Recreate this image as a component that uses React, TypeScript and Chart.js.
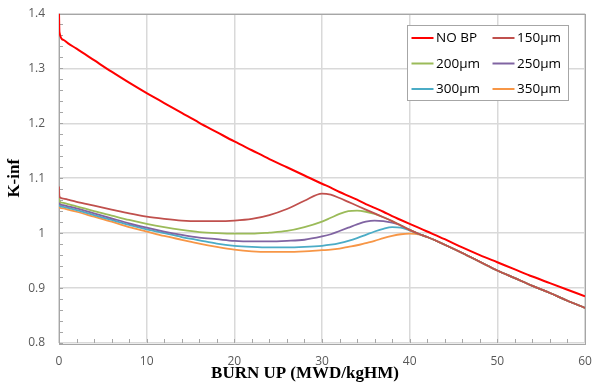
import React, { useEffect, useRef } from "react";
import { Chart, registerables } from "chart.js";

Chart.register(...registerables);

// Burn-up grid (MWD/kgHM)
const burnup = [0, 0.05, 0.5, 1, 2, 4, 6, 8, 10, 12, 14, 16, 18, 20, 22, 24, 26, 28, 30, 31, 32, 33, 34, 35, 36, 37, 38, 39, 40, 41, 42, 44, 46, 48, 50, 52, 54, 56, 58, 60];

const noBp = [1.4, 1.366, 1.352, 1.346, 1.336, 1.315, 1.294, 1.274, 1.255, 1.237, 1.219, 1.201, 1.184, 1.167, 1.151, 1.135, 1.12, 1.105, 1.09, 1.083, 1.075, 1.068, 1.061, 1.053, 1.046, 1.039, 1.031, 1.024, 1.017, 1.01, 1.003, 0.989, 0.974, 0.96, 0.947, 0.934, 0.921, 0.909, 0.897, 0.885];

const bp150 = [1.085, 1.066, 1.063, 1.061, 1.057, 1.05, 1.043, 1.036, 1.03, 1.026, 1.023, 1.022, 1.022, 1.023, 1.026, 1.033, 1.044, 1.059, 1.072, 1.07, 1.064, 1.057, 1.05, 1.043, 1.036, 1.029, 1.022, 1.014, 1.006, 0.999, 0.993, 0.979, 0.964, 0.948, 0.932, 0.918, 0.904, 0.891, 0.877, 0.864];

const bp200 = [1.075, 1.058, 1.055, 1.053, 1.049, 1.04, 1.032, 1.024, 1.017, 1.011, 1.006, 1.002, 1.0, 0.999, 0.999, 1.001, 1.004, 1.011, 1.021, 1.028, 1.035, 1.04, 1.041, 1.039, 1.035, 1.029, 1.022, 1.014, 1.006, 0.999, 0.993, 0.979, 0.964, 0.948, 0.932, 0.918, 0.904, 0.891, 0.877, 0.864];

const bp250 = [1.072, 1.054, 1.051, 1.049, 1.045, 1.036, 1.027, 1.018, 1.01, 1.003, 0.997, 0.992, 0.989, 0.986, 0.985, 0.985, 0.986, 0.988, 0.994, 0.998, 1.004, 1.01, 1.016, 1.021, 1.023, 1.022, 1.019, 1.014, 1.006, 0.999, 0.993, 0.979, 0.964, 0.948, 0.932, 0.918, 0.904, 0.891, 0.877, 0.864];

const bp300 = [1.07, 1.05, 1.048, 1.046, 1.042, 1.033, 1.024, 1.015, 1.007, 1.0, 0.993, 0.987, 0.981, 0.977, 0.975, 0.974, 0.974, 0.975, 0.977, 0.979, 0.982, 0.986, 0.991, 0.997, 1.003, 1.008, 1.011, 1.01, 1.005, 0.999, 0.993, 0.979, 0.964, 0.948, 0.932, 0.918, 0.904, 0.891, 0.877, 0.864];

const bp350 = [1.067, 1.047, 1.045, 1.043, 1.039, 1.03, 1.021, 1.011, 1.003, 0.995, 0.988, 0.981, 0.975, 0.97, 0.967, 0.966, 0.966, 0.967, 0.969, 0.97, 0.972, 0.975, 0.978, 0.982, 0.986, 0.991, 0.995, 0.998, 0.999, 0.998, 0.993, 0.979, 0.964, 0.948, 0.932, 0.918, 0.904, 0.891, 0.877, 0.864];

const seriesLabels = ["NO BP", "150\u00b5m", "200\u00b5m", "250\u00b5m", "300\u00b5m", "350\u00b5m"];
const seriesValues = [noBp, bp150, bp200, bp250, bp300, bp350];
const seriesColors = ["#ff0000", "#c0504d", "#9bbb59", "#8064a2", "#4bacc6", "#f79646"];

const xTicks = [0, 10, 20, 30, 40, 50, 60];
const yTicks = [0.8, 0.9, 1, 1.1, 1.2, 1.3, 1.4];
const xMinorStep = 2;
const yMinorStep = 0.02;

const xTitle = "BURN UP (MWD/kgHM)";
const yTitle = "K-inf";

const framePlugin = {
  id: "frameMinor",
  beforeDatasetsDraw(chart: any) {
    const { ctx, chartArea: a, scales } = chart;
    ctx.save();
    ctx.strokeStyle = "#a6a6a6";
    ctx.lineWidth = 1;
    ctx.beginPath();
    const xs = scales.x;
    const ys = scales.y;
    for (let v = xs.min; v <= xs.max + 1e-9; v += xMinorStep) {
      const px = Math.round(xs.getPixelForValue(v)) + 0.5;
      ctx.moveTo(px, a.bottom);
      ctx.lineTo(px, a.bottom - 4);
    }
    const n = Math.round((ys.max - ys.min) / yMinorStep);
    for (let i = 0; i <= n; i++) {
      const py = Math.round(ys.getPixelForValue(ys.min + i * yMinorStep)) + 0.5;
      ctx.moveTo(a.left, py);
      ctx.lineTo(a.left + 4, py);
    }
    ctx.stroke();
    ctx.strokeStyle = "#a6a6a6";
    ctx.strokeRect(Math.round(a.left) + 0.5, Math.round(a.top) + 0.5, Math.round(a.right - a.left), Math.round(a.bottom - a.top));
    ctx.restore();
  },
};

const legendPlugin = {
  id: "boxLegend",
  afterDraw(chart: any) {
    const { ctx, chartArea: a } = chart;
    const w = 161;
    const h = 75;
    const left = Math.round(a.right - 17 - w) + 0.5;
    const top = Math.round(a.top + 11) + 0.5;
    ctx.save();
    ctx.fillStyle = "#ffffff";
    ctx.fillRect(left, top, w, h);
    ctx.strokeStyle = "#a6a6a6";
    ctx.lineWidth = 1;
    ctx.strokeRect(left, top, w, h);
    ctx.font = "13.5px 'Open Sans'";
    ctx.textBaseline = "middle";
    ctx.fillStyle = "#000000";
    chart.data.datasets.forEach((ds: any, i: number) => {
      const col = i % 2;
      const row = Math.floor(i / 2);
      const x0 = left + 4 + col * 81;
      const y = top + 12.5 + row * 25.5;
      ctx.strokeStyle = ds.borderColor;
      ctx.lineWidth = 2;
      ctx.beginPath();
      ctx.moveTo(x0, y);
      ctx.lineTo(x0 + 22, y);
      ctx.stroke();
      ctx.fillText(ds.label, x0 + 24.5, y + 0.5);
    });
    ctx.restore();
  },
};

export default function App() {
  const ref = useRef<HTMLCanvasElement | null>(null);
  useEffect(() => {
    document.body.style.margin = "0";
    const canvas = ref.current;
    if (!canvas) return;
    const tickFont = { family: "'Open Sans'", size: 12 };
    const titleFont = { family: "'Liberation Serif'", size: 17, weight: "bold" as const, lineHeight: 1 };
    const chart = new Chart(canvas, {
      type: "line",
      data: {
        datasets: seriesValues.map((vals, i) => ({
          label: seriesLabels[i],
          data: burnup.map((x, j) => ({ x, y: vals[j] })),
          borderColor: seriesColors[i],
          backgroundColor: seriesColors[i],
          borderWidth: i === 0 ? 2 : 1.8,
          pointRadius: 0,
          fill: false,
          cubicInterpolationMode: "monotone" as const,
        })),
      },
      options: {
        animation: false,
        responsive: false,
        maintainAspectRatio: false,
        layout: { padding: { top: 13.5, right: 8, left: 0, bottom: 0 } },
        plugins: { legend: { display: false }, tooltip: { enabled: false } },
        scales: {
          x: {
            type: "linear",
            min: 0,
            max: 60,
            afterBuildTicks: (s: any) => {
              s.ticks = xTicks.map((v) => ({ value: v }));
            },
            afterFit: (s: any) => {
              s.height = 40;
              s.paddingLeft = 0;
              s.paddingRight = 0;
            },
            grid: { color: "#d9d9d9", lineWidth: 1.5, drawTicks: false },
            border: { display: false },
            ticks: { padding: 11, color: "#595959", font: tickFont, maxRotation: 0, callback: (v: any) => String(v) },
            title: { display: true, text: xTitle + "        ", color: "#000000", font: titleFont, padding: { top: 0, bottom: 1 } },
          },
          y: {
            type: "linear",
            min: 0.8,
            max: 1.4,
            afterBuildTicks: (s: any) => {
              s.ticks = yTicks.map((v) => ({ value: v }));
            },
            afterFit: (s: any) => {
              s.width = 59;
              s.paddingTop = 0;
              s.paddingBottom = 0;
            },
            grid: { color: "#d9d9d9", lineWidth: 1.5, drawTicks: false },
            border: { display: false },
            ticks: { padding: 14, color: "#595959", font: tickFont, callback: (v: any) => String(Number(Number(v).toFixed(2))) },
            title: { display: true, text: yTitle, color: "#000000", font: titleFont, padding: { top: 6, bottom: 0 } },
          },
        },
      },
      plugins: [framePlugin, legendPlugin],
    });
    return () => chart.destroy();
  }, []);
  return <canvas ref={ref} width={593} height={383} style={{ display: "block", width: 593, height: 383 }} />;
}
